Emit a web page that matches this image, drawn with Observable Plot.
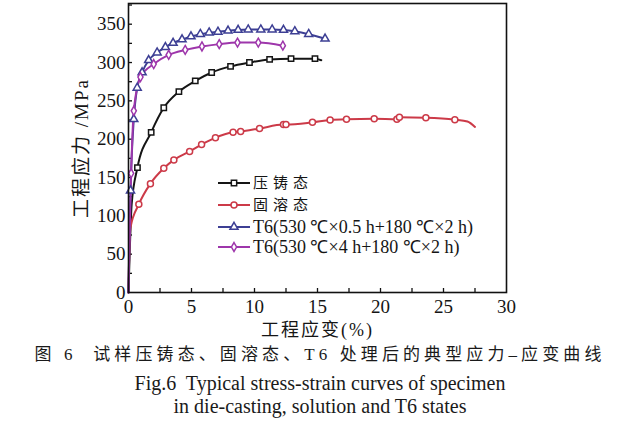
<!DOCTYPE html>
<html><head><meta charset="utf-8">
<script src="https://cdn.jsdelivr.net/npm/d3@7"></script>
<script src="https://cdn.jsdelivr.net/npm/@observablehq/plot@0.6"></script>
<style>
body{margin:0;background:#fff;}
#wrap{position:relative;width:640px;height:429px;overflow:hidden;background:#fff;}
#wrap svg{position:absolute;left:0;top:0;}
[aria-label="x-axis label"] text{font-family:"Liberation Serif","Noto Sans CJK SC",serif;font-size:18px;letter-spacing:2px;}
[aria-label="y-axis label"] text{font-family:"Liberation Serif","Noto Sans CJK SC",serif;font-size:19px;letter-spacing:2px;}
.cap{position:absolute;left:0;width:640px;text-align:center;color:#1a1a1a;white-space:pre;line-height:1;}
.zh{font-family:"Liberation Serif","Noto Sans CJK SC",serif;font-size:17px;letter-spacing:4.1px;}
.en{font-family:"Liberation Serif",serif;font-size:20px;}
</style></head><body><div id="wrap"></div>
<script>
// ---- data (strain %, stress MPa, marker flag) ----
const dieStrain = [0, 0.1, 0.25, 0.71, 1.8, 2.8, 4.0, 5.3, 6.6, 8.1, 9.6, 11.2, 12.9, 14.8, 15.3];
const dieStress = [0, 55, 115, 163, 209, 241, 262, 276, 287, 295, 300, 304, 305, 305, 303];
const dieMark   = [0, 0, 0, 1, 1, 1, 1, 1, 1, 1, 1, 1, 1, 1, 0];

const solStrain = [0, 0.05, 0.16, 0.82, 1.74, 2.8, 3.6, 4.85, 5.8, 6.9, 8.3, 8.9, 10.4, 12.3, 12.5, 14.6, 16.0, 17.3, 19.5, 21.3, 21.5, 23.6, 25.9, 26.9, 27.5];
const solStress = [0, 45, 85, 115, 142, 162, 173, 184, 193, 202, 209, 210, 214, 219, 219, 222, 225, 226, 226.5, 226, 228.5, 228, 225.5, 223, 216];
const solMark   = [0, 0, 0, 1, 1, 1, 1, 1, 1, 1, 1, 1, 1, 1, 1, 1, 1, 1, 1, 1, 1, 1, 1, 0, 0];

const t6aStrain = [0, 0.06, 0.16, 0.42, 0.69, 1.08, 1.6, 2.27, 2.93, 3.54, 4.25, 4.96, 5.7, 6.4, 7.1, 7.9, 8.7, 9.5, 10.5, 11.4, 12.3, 13.2, 14.3, 15.6];
const t6aStress = [0, 60, 133, 226, 267, 287, 303, 313, 320, 325.5, 330, 334, 337, 339, 340, 341.5, 342.5, 343, 343, 343, 342.5, 340.7, 337, 331];
const t6aMark   = [0, 0, 1, 1, 1, 1, 1, 1, 1, 1, 1, 1, 1, 1, 1, 1, 1, 1, 1, 1, 1, 1, 1, 1];

const t6bStrain = [0, 0.08, 0.21, 0.42, 0.95, 2.0, 3.19, 4.5, 5.83, 7.2, 8.65, 10.3, 12.25];
const t6bStress = [0, 70, 155.5, 237, 281, 298, 310, 316.5, 321, 324, 326, 326, 322];
const t6bMark   = [0, 0, 1, 1, 1, 1, 1, 1, 1, 1, 1, 1, 1];

const seriesNames = ["压铸态", "固溶态", "T6(530 ℃×0.5 h+180 ℃×2 h)", "T6(530 ℃×4 h+180 ℃×2 h)"];
const colors  = ["#151515", "#cc3a48", "#3d3f94", "#9e36ab"];
const symbols = ["square", "circle", "triangle", "diamond"];

const xMajor = [0, 5, 10, 15, 20, 25, 30];
const xMinor = [2.5, 5, 7.5, 10, 12.5, 15, 17.5, 20, 22.5, 25, 27.5];
const yMajor = [0, 50, 100, 150, 200, 250, 300, 350];
const yMinor = [25, 50, 75, 100, 125, 150, 175, 200, 225, 250, 275, 300, 325, 350, 375];

const xLabel = "工程应变(%)";
const yLabel = "工程应力 /MPa";
const capZh = "图 6  试样压铸态、固溶态、T6 处理后的典型应力–应变曲线";
const capEn1 = "Fig.6  Typical stress-strain curves of specimen";
const capEn2 = "in die-casting, solution and T6 states";

// ---- build table ----
const raw = [
  [dieStrain, dieStress, dieMark],
  [solStrain, solStress, solMark],
  [t6aStrain, t6aStress, t6aMark],
  [t6bStrain, t6bStress, t6bMark]
];
const rows = [];
raw.forEach(([xs, ys, ms], s) => xs.forEach((x, i) => rows.push({series: s, strain: x, stress: ys[i], mark: ms[i]})));

const W = 640, H = 345, mL = 128, mR = 134, mT = 3, mB = 53;
const innerW = W - mL - mR, innerH = H - mT - mB;

const marks = [
  Plot.ruleX(xMinor, {x: d => d, insetTop: innerH - 4, stroke: "#111", strokeWidth: 1.3}),
  Plot.ruleY(yMinor, {y: d => d, insetRight: innerW - 4, stroke: "#111", strokeWidth: 1.3}),
  Plot.axisX({ticks: xMajor, tickSize: 0, tickPadding: 7, label: xLabel, labelAnchor: "center", labelOffset: 43, labelArrow: "none"}),
  Plot.axisY({ticks: yMajor, tickSize: 0, tickPadding: 3, label: yLabel, labelAnchor: "center", labelOffset: 54, labelArrow: "none"})
];
[0, 1, 2, 3].forEach(s => {
  const d = rows.filter(r => r.series === s);
  marks.push(Plot.line(d, {x: "strain", y: "stress", stroke: colors[s], strokeWidth: 2, curve: "monotone-x"}));
});
[0, 1, 2, 3].forEach(s => {
  const d = rows.filter(r => r.series === s && r.mark === 1);
  marks.push(Plot.dot(d, {x: "strain", y: "stress", symbol: symbols[s], r: s === 3 ? 2.7 : 3.0, stroke: colors[s], fill: "white", strokeWidth: 1.5}));
});
marks.push(Plot.frame({stroke: "#111", strokeWidth: 1.6}));

const chart = Plot.plot({
  width: W, height: H, marginLeft: mL, marginRight: mR, marginTop: mT, marginBottom: mB,
  x: {domain: [0, 30]}, y: {domain: [0, 377]},
  style: {fontFamily: "Liberation Serif", fontSize: "19px", color: "#151515", background: "white", overflow: "visible"},
  marks
});
const wrap = document.getElementById("wrap");
wrap.appendChild(chart);

// ---- legend (inside plot) ----
const leg = d3.select(wrap).append("svg").attr("width", W).attr("height", H);
const rowY = [183, 205, 227, 247];
seriesNames.forEach((name, s) => {
  const g = leg.append("g").attr("transform", `translate(0,${rowY[s]})`);
  g.append("line").attr("x1", 218).attr("x2", 250).attr("y1", 0).attr("y2", 0).attr("stroke", colors[s]).attr("stroke-width", 2);
  const sym = [d3.symbolSquare, d3.symbolCircle, d3.symbolTriangle, d3.symbolDiamond][s];
  const r = s === 3 ? 2.7 : 3.0;
  g.append("path").attr("transform", "translate(234,0)").attr("d", d3.symbol(sym, r * r * Math.PI)())
    .attr("fill", "white").attr("stroke", colors[s]).attr("stroke-width", 1.5);
  const t = g.append("text").attr("x", 253).attr("y", 0).attr("dy", "0.35em").attr("fill", "#151515").text(name);
  if (s < 2) t.attr("font-family", "Noto Sans CJK SC").attr("font-size", 15).attr("letter-spacing", 5);
  else t.attr("font-family", "Liberation Serif").attr("font-size", 18);
});

// ---- captions ----
const addCap = (txt, cls, top) => {
  const d = document.createElement("div");
  d.className = "cap " + cls; d.style.top = top + "px"; d.textContent = txt; wrap.appendChild(d);
};
addCap(capZh, "zh", 346);
addCap(capEn1, "en", 373);
addCap(capEn2, "en", 396);
</script></body></html>
